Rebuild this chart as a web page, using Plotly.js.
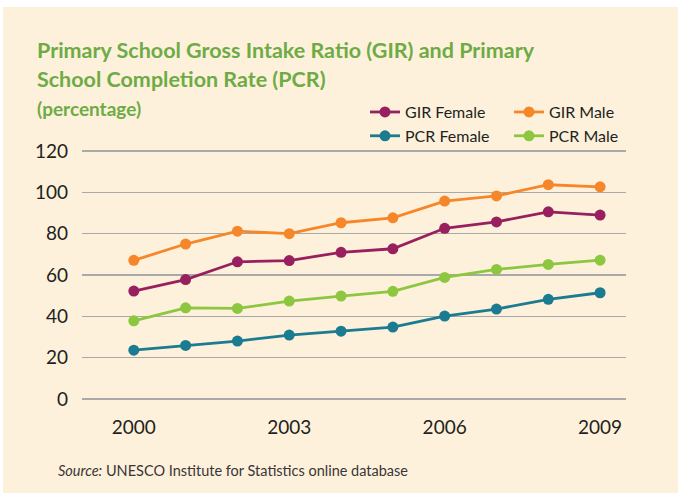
<!DOCTYPE html>
<html>
<head>
<meta charset="utf-8">
<script src="https://cdn.plot.ly/plotly-3.0.1.min.js"></script>
<style>
  html, body { margin: 0; padding: 0; background: #ffffff; width: 678px; height: 493px; overflow: hidden; }
  #chart { position: absolute; left: 3px; top: 7px; width: 675px; height: 486px; }
</style>
</head>
<body>
<div id="chart"></div>
<script>
// ---- data ----
const years = [2000, 2001, 2002, 2003, 2004, 2005, 2006, 2007, 2008, 2009];
const girFemale = [52.2, 57.8, 66.4, 67.0, 71.0, 72.7, 82.6, 85.7, 90.6, 89.0];
const girMale   = [67.1, 75.0, 81.2, 80.0, 85.3, 87.7, 95.8, 98.3, 103.7, 102.7];
const pcrFemale = [23.6, 25.9, 28.0, 30.9, 32.8, 34.8, 40.1, 43.5, 48.2, 51.4];
const pcrMale   = [37.8, 44.1, 43.8, 47.4, 49.8, 52.1, 58.8, 62.7, 65.1, 67.2];
const xTicks = [2000, 2003, 2006, 2009];
const yTicks = [0, 20, 40, 60, 80, 100, 120];
const seriesNames = ["GIR Female", "GIR Male", "PCR Female", "PCR Male"];

const titleLine1 = "Primary School Gross Intake Ratio (GIR) and Primary";
const titleLine2 = "School Completion Rate (PCR)";
const subtitle = "(percentage)";
const sourceText = "<i>Source:</i> UNESCO Institute for Statistics online database";

// ---- styles ----
const colors = ["#98205e", "#f5872a", "#1b7b90", "#8dc63f"];
const bg = "#fdf1dc";
const titleGreen = "#6eab45";
const textColor = "#231f20";

// page-pixel helpers (div is offset 3,7 within page)
const divLeft = 3, divTop = 7, divW = 675, divH = 486;
const plotLeftPx = 82, plotRightPx = 626, plotTopPx = 148.9, plotBottomPx = 400.8;
const plotW = plotRightPx - plotLeftPx, plotH = plotBottomPx - plotTopPx;
const px = x => (x - plotLeftPx) / plotW;
const py = y => (plotBottomPx - y) / plotH;

const dataSets = [girFemale, girMale, pcrFemale, pcrMale];
const legendIds = ["legend", "legend2", "legend", "legend2"];
const traces = dataSets.map((vals, i) => ({
  type: "scatter",
  mode: "lines+markers",
  x: years,
  y: vals,
  name: seriesNames[i],
  legend: legendIds[i],
  line: { color: colors[i], width: 2.8 },
  marker: { color: colors[i], size: 11 },
  cliponaxis: false,
  hoverinfo: "skip"
}));

const legendFont = { family: "Lato, 'Liberation Sans', sans-serif", size: 16, color: textColor };

const layout = {
  width: divW,
  height: divH,
  paper_bgcolor: bg,
  plot_bgcolor: bg,
  margin: {
    l: plotLeftPx - divLeft,
    r: divLeft + divW - plotRightPx,
    t: plotTopPx - divTop,
    b: divTop + divH - plotBottomPx,
    pad: 0
  },
  showlegend: true,
  legend: {
    x: px(365), y: py(95), xanchor: "left", yanchor: "top",
    orientation: "v", bgcolor: "rgba(0,0,0,0)", borderwidth: 0,
    font: legendFont, tracegroupgap: 0, itemclick: false
  },
  legend2: {
    x: px(509), y: py(95), xanchor: "left", yanchor: "top",
    orientation: "v", bgcolor: "rgba(0,0,0,0)", borderwidth: 0,
    font: legendFont, tracegroupgap: 0, itemclick: false
  },
  xaxis: {
    range: [1999.0, 2009.5],
    tickvals: xTicks,
    ticktext: xTicks.map(String),
    showgrid: false, zeroline: false, showline: false, ticks: "",
    ticklabelstandoff: 13,
    tickfont: { family: "Lato, 'Liberation Sans', sans-serif", size: 19, color: textColor },
    fixedrange: true
  },
  yaxis: {
    range: [-1, 121],
    tickvals: yTicks,
    ticktext: yTicks.map(String),
    showgrid: true, gridcolor: "#a9a9a9", gridwidth: 1.6,
    zeroline: false, showline: false, ticks: "",
    ticklabelstandoff: 13,
    tickfont: { family: "Lato, 'Liberation Sans', sans-serif", size: 19, color: textColor },
    fixedrange: true
  },
  annotations: [
    { text: titleLine1, xref: "paper", yref: "paper", x: px(35), y: py(50), xanchor: "left", yanchor: "middle",
      showarrow: false, font: { family: "Lato, sans-serif", size: 21.5, color: titleGreen, weight: 700 } },
    { text: titleLine2, xref: "paper", yref: "paper", x: px(35), y: py(79), xanchor: "left", yanchor: "middle",
      showarrow: false, font: { family: "Lato, sans-serif", size: 21.5, color: titleGreen, weight: 700 } },
    { text: subtitle, xref: "paper", yref: "paper", x: px(35), y: py(108), xanchor: "left", yanchor: "middle",
      showarrow: false, font: { family: "Lato, sans-serif", size: 19, color: titleGreen, weight: 700 } },
    { text: sourceText, xref: "paper", yref: "paper", x: px(56), y: py(470), xanchor: "left", yanchor: "middle",
      showarrow: false, font: { family: "Lato, 'Liberation Sans', sans-serif", size: 14.5, color: "#3a3536" } }
  ]
};

Plotly.newPlot("chart", traces, layout, { staticPlot: true, displayModeBar: false });
</script>
</body>
</html>
